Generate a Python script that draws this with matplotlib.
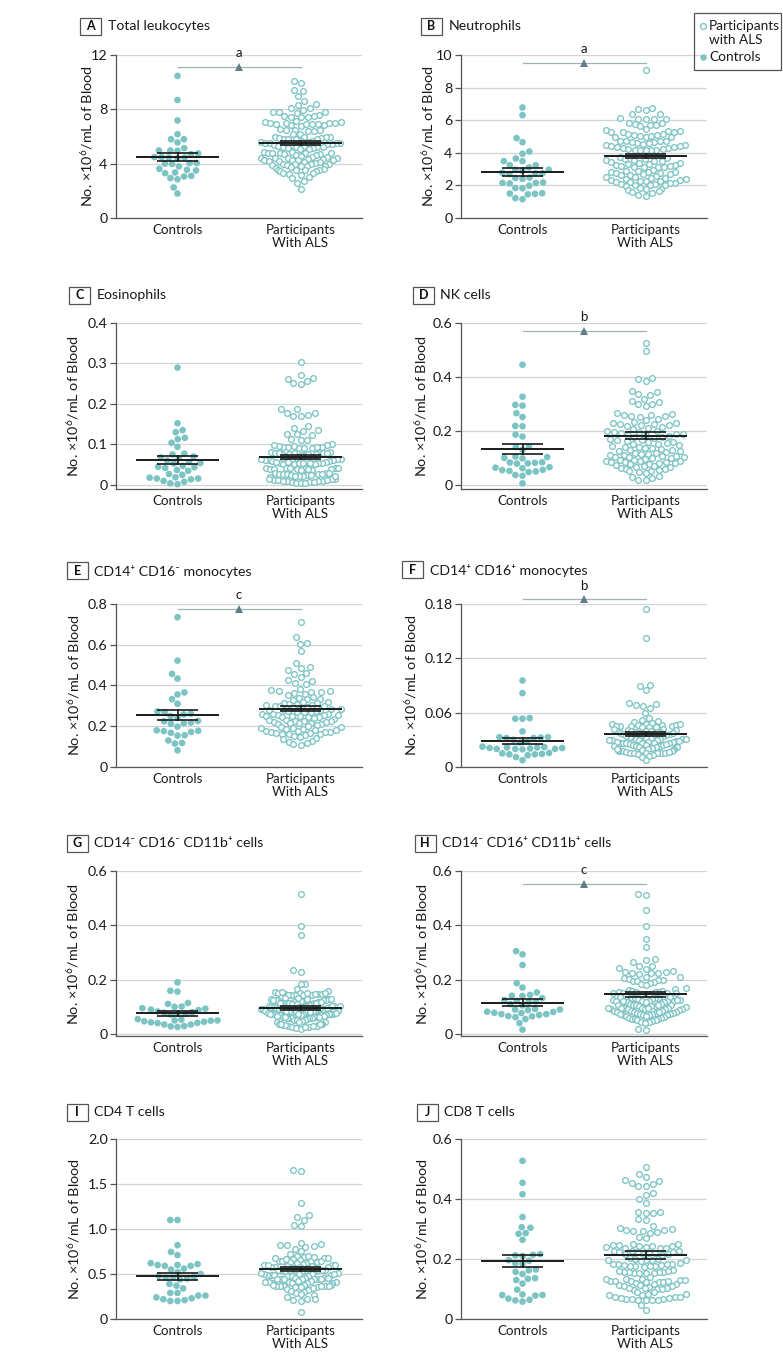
import numpy as np
import matplotlib
matplotlib.use("Agg")
import matplotlib.pyplot as plt
from matplotlib.patches import Rectangle
from matplotlib.lines import Line2D

plt.rcParams['font.family'] = ['Lato', 'DejaVu Sans']
plt.rcParams['mathtext.fontset'] = 'custom'
plt.rcParams['mathtext.rm'] = 'Lato'

TEAL = '#7cc4c3'
TRI = '#5f7f84'
BRK = '#9db3b6'
INK = '#1a1a1a'

# ---------------- data ----------------
panel_letters = ['A', 'B', 'C', 'D', 'E', 'F', 'G', 'H', 'I', 'J']
panel_titles = ['Total leukocytes', 'Neutrophils', 'Eosinophils', 'NK cells',
                'CD14⁺ CD16⁻ monocytes', 'CD14⁺ CD16⁺ monocytes',
                'CD14⁻ CD16⁻ CD11b⁺ cells', 'CD14⁻ CD16⁺ CD11b⁺ cells',
                'CD4 T cells', 'CD8 T cells']
categories = ['Controls', 'Participants\nWith ALS']

y_ticks = [[0, 4, 8, 12], [0, 2, 4, 6, 8, 10], [0, 0.1, 0.2, 0.3, 0.4],
           [0, 0.2, 0.4, 0.6], [0, 0.2, 0.4, 0.6, 0.8], [0, 0.06, 0.12, 0.18],
           [0, 0.2, 0.4, 0.6], [0, 0.2, 0.4, 0.6], [0, 0.5, 1.0, 1.5, 2.0],
           [0, 0.2, 0.4, 0.6]]
y_tick_labels = [['0', '4', '8', '12'], ['0', '2', '4', '6', '8', '10'],
                 ['0', '0.1', '0.2', '0.3', '0.4'], ['0', '0.2', '0.4', '0.6'],
                 ['0', '0.2', '0.4', '0.6', '0.8'], ['0', '0.06', '0.12', '0.18'],
                 ['0', '0.2', '0.4', '0.6'], ['0', '0.2', '0.4', '0.6'],
                 ['0', '0.5', '1.0', '1.5', '2.0'], ['0', '0.2', '0.4', '0.6']]

ctrl_mean = [4.49, 2.84, 0.0615, 0.133, 0.256, 0.0287, 0.0758, 0.115, 0.474, 0.193]
ctrl_sem = [0.28, 0.25, 0.0103, 0.018, 0.024, 0.0035, 0.0085, 0.013, 0.041, 0.020]
als_mean = [5.49, 3.80, 0.0697, 0.182, 0.287, 0.0364, 0.0966, 0.1455, 0.556, 0.212]
als_sem = [0.15, 0.14, 0.0053, 0.013, 0.012, 0.0024, 0.0073, 0.009, 0.026, 0.0133]

sig_letter = ['a', 'a', '', 'b', 'c', 'b', '', 'c', '', '']
sig_line_y = [11.1, 9.5, None, 0.568, 0.774, 0.185, None, 0.551, None, None]

A_ctrl = [10.46, 8.69, 7.18, 6.17, 5.80, 5.80, 5.56, 5.14, 4.97, 4.97, 4.95, 4.75, 4.70,
          4.48, 4.48, 4.45, 4.45, 4.40, 4.05, 4.04, 4.00, 3.98, 3.80, 3.62, 3.55, 3.50,
          3.35, 3.30, 3.10, 3.06, 2.94, 2.85, 2.25, 1.80]
A_als = [10.1, 9.95, 9.4, 9.35, 8.95, 8.65, 8.4, 8.35, 8.1, 8.1, 7.95, 7.8, 7.8, 7.8, 7.75,
         7.55, 7.5, 7.45, 7.4, 7.4, 7.5, 7.15, 7.1, 7.05, 7.0, 7.0, 6.95, 6.9, 6.9, 6.85,
         6.85, 6.8, 6.9, 7.0, 7.0, 6.55, 6.5, 6.45, 6.45, 6.4, 6.4, 6.2, 6.15, 6.0, 6.0,
         5.95, 5.95, 5.9, 5.9, 5.85, 5.85, 5.8, 5.8, 5.65, 5.65, 5.6, 5.6, 5.55, 5.55, 5.5,
         5.5, 5.45, 5.45, 5.4, 5.4, 5.3, 5.3, 5.25, 5.25, 5.2, 5.2, 5.15, 5.15, 5.1, 5.1,
         4.85, 4.85, 4.8, 4.8, 4.8, 4.75, 4.75, 4.7, 4.7, 4.65, 4.65, 4.6, 4.5, 4.5, 4.45,
         4.45, 4.4, 4.4, 4.35, 4.35, 4.3, 4.3, 4.25, 4.25, 4.2, 4.2, 4.15, 4.1, 4.05, 4.0,
         4.0, 3.95, 3.95, 3.9, 3.9, 3.85, 3.8, 3.8, 3.75, 3.7, 3.6, 3.55, 3.55, 3.5, 3.5,
         3.45, 3.45, 3.3, 3.3, 3.25, 3.2, 3.0, 2.95, 2.7, 2.55, 2.1]

B_ctrl = [6.78, 6.31, 4.90, 4.65, 4.08, 3.94, 3.65, 3.49, 3.49, 3.24, 3.24, 3.10, 2.96,
          2.96, 2.90, 2.78, 2.75, 2.75, 2.70, 2.48, 2.45, 2.40, 2.18, 2.15, 2.15, 2.12,
          1.98, 1.84, 1.82, 1.52, 1.50, 1.48, 1.45, 1.22, 1.15]
B_als = [9.05, 6.75, 6.7, 6.6, 6.4, 6.35, 6.1, 6.1, 6.05, 6.05, 6.15, 5.85, 5.8, 5.75, 5.7,
         5.65, 5.7, 5.45, 5.4, 5.35, 5.3, 5.35, 5.3, 5.25, 5.15, 5.1, 5.05, 5.0, 5.0, 5.1,
         5.15, 5.05, 4.95, 4.75, 4.7, 4.65, 4.6, 4.6, 4.65, 4.7, 4.7, 4.55, 4.5, 4.45, 4.4,
         4.4, 4.35, 4.35, 4.3, 4.3, 4.25, 4.25, 4.2, 4.2, 4.2, 4.15, 4.15, 3.75, 3.7, 3.65,
         3.6, 3.55, 3.55, 3.5, 3.5, 3.45, 3.4, 3.35, 3.3, 3.3, 3.25, 3.25, 3.2, 3.2, 3.15,
         3.15, 3.1, 3.1, 2.95, 2.9, 2.9, 2.85, 2.85, 2.8, 2.75, 2.75, 2.7, 2.7, 2.65, 2.65,
         2.55, 2.5, 2.5, 2.45, 2.45, 2.4, 2.4, 2.35, 2.35, 2.3, 2.3, 2.3, 2.2, 2.2, 2.15,
         2.15, 2.1, 2.1, 2.05, 2.0, 2.0, 1.95, 1.85, 1.8, 1.75, 1.7, 1.65, 1.6, 1.55, 1.4, 1.35]

C_ctrl = [0.289, 0.152, 0.135, 0.130, 0.116, 0.113, 0.104, 0.094, 0.077, 0.075, 0.070,
          0.068, 0.066, 0.060, 0.056, 0.054, 0.053, 0.047, 0.045, 0.044, 0.042, 0.037,
          0.035, 0.027, 0.025, 0.019, 0.016, 0.014, 0.016, 0.018, 0.010, 0.008, 0.004, 0.002]
C_als = [0.302, 0.272, 0.264, 0.262, 0.256, 0.250, 0.248, 0.187, 0.186, 0.178, 0.177, 0.173,
         0.170, 0.170, 0.145, 0.141, 0.135, 0.133, 0.126, 0.125, 0.122, 0.113, 0.110, 0.112,
         0.100, 0.098, 0.096, 0.094, 0.093, 0.092, 0.092, 0.092, 0.093, 0.094, 0.097, 0.099,
         0.082, 0.081, 0.080, 0.079, 0.078, 0.077, 0.076, 0.075, 0.075, 0.076, 0.077, 0.078,
         0.079, 0.080, 0.068, 0.067, 0.066, 0.065, 0.064, 0.063, 0.062, 0.061, 0.060, 0.062,
         0.064, 0.058, 0.057, 0.056, 0.055, 0.054, 0.053, 0.052, 0.051, 0.052, 0.053, 0.054,
         0.055, 0.056, 0.057, 0.042, 0.042, 0.041, 0.040, 0.040, 0.039, 0.039, 0.038, 0.038,
         0.039, 0.040, 0.041, 0.042, 0.030, 0.029, 0.028, 0.027, 0.026, 0.025, 0.024, 0.025,
         0.026, 0.028, 0.030, 0.022, 0.021, 0.020, 0.015, 0.014, 0.013, 0.012, 0.011, 0.010,
         0.009, 0.008, 0.007, 0.006, 0.005, 0.006, 0.008, 0.010, 0.012, 0.014, 0.021, 0.022]

D_ctrl = [0.444, 0.326, 0.296, 0.293, 0.265, 0.251, 0.218, 0.217, 0.186, 0.179, 0.142,
          0.140, 0.130, 0.105, 0.103, 0.100, 0.098, 0.084, 0.080, 0.079, 0.082, 0.083,
          0.066, 0.064, 0.062, 0.055, 0.048, 0.052, 0.050, 0.056, 0.037, 0.034, 0.006]
D_als = [0.525, 0.495, 0.395, 0.39, 0.385, 0.348, 0.343, 0.335, 0.332, 0.318, 0.31, 0.305,
         0.3, 0.298, 0.292, 0.265, 0.262, 0.26, 0.257, 0.256, 0.255, 0.252, 0.245, 0.24,
         0.232, 0.23, 0.228, 0.225, 0.224, 0.222, 0.22, 0.218, 0.215, 0.21, 0.205, 0.2,
         0.198, 0.196, 0.195, 0.193, 0.19, 0.188, 0.186, 0.184, 0.182, 0.178, 0.176, 0.174,
         0.17, 0.168, 0.165, 0.162, 0.16, 0.158, 0.155, 0.153, 0.15, 0.147, 0.145, 0.142,
         0.14, 0.137, 0.135, 0.133, 0.13, 0.128, 0.126, 0.125, 0.122, 0.12, 0.118, 0.116,
         0.114, 0.112, 0.11, 0.108, 0.106, 0.105, 0.104, 0.103, 0.1, 0.098, 0.096, 0.094,
         0.092, 0.09, 0.088, 0.087, 0.086, 0.085, 0.084, 0.083, 0.08, 0.078, 0.076, 0.074,
         0.072, 0.07, 0.068, 0.066, 0.064, 0.06, 0.058, 0.055, 0.052, 0.05, 0.047, 0.045,
         0.035, 0.03, 0.025, 0.02, 0.018]

E_ctrl = [0.735, 0.522, 0.457, 0.434, 0.366, 0.356, 0.333, 0.310, 0.272, 0.270, 0.262,
          0.258, 0.250, 0.240, 0.226, 0.224, 0.218, 0.215, 0.212, 0.198, 0.180, 0.176,
          0.172, 0.168, 0.178, 0.156, 0.154, 0.130, 0.118, 0.115, 0.082]
E_als = [0.71, 0.637, 0.61, 0.605, 0.57, 0.512, 0.49, 0.485, 0.475, 0.46, 0.455, 0.44, 0.428,
         0.42, 0.41, 0.405, 0.385, 0.38, 0.375, 0.372, 0.37, 0.37, 0.365, 0.36, 0.355, 0.345,
         0.34, 0.335, 0.335, 0.33, 0.32, 0.318, 0.315, 0.312, 0.31, 0.308, 0.305, 0.303, 0.3,
         0.3, 0.298, 0.296, 0.29, 0.288, 0.286, 0.284, 0.282, 0.28, 0.278, 0.276, 0.274,
         0.272, 0.27, 0.268, 0.262, 0.26, 0.258, 0.256, 0.255, 0.254, 0.252, 0.25, 0.248,
         0.246, 0.245, 0.244, 0.242, 0.235, 0.232, 0.23, 0.228, 0.226, 0.224, 0.222, 0.22,
         0.218, 0.216, 0.214, 0.212, 0.21, 0.205, 0.2, 0.198, 0.195, 0.192, 0.19, 0.188,
         0.185, 0.182, 0.18, 0.178, 0.176, 0.174, 0.172, 0.17, 0.168, 0.166, 0.164, 0.162,
         0.16, 0.155, 0.15, 0.145, 0.14, 0.135, 0.13, 0.125, 0.12, 0.115, 0.11]

F_ctrl = [0.0955, 0.0816, 0.0540, 0.0533, 0.0533, 0.0393, 0.0330, 0.0325, 0.0320, 0.0320,
          0.0330, 0.0300, 0.0285, 0.0270, 0.0220, 0.0215, 0.0210, 0.0200, 0.0195, 0.0200,
          0.0205, 0.0200, 0.0210, 0.0215, 0.0225, 0.0150, 0.0140, 0.0145, 0.0140, 0.0155,
          0.0130, 0.0110, 0.0075]
F_als = [0.1745, 0.1425, 0.0905, 0.0895, 0.0845, 0.0705, 0.0695, 0.0685, 0.067, 0.0655,
         0.0595, 0.054, 0.052, 0.051, 0.05, 0.049, 0.048, 0.047, 0.046, 0.046, 0.045, 0.045,
         0.044, 0.044, 0.044, 0.045, 0.045, 0.046, 0.047, 0.042, 0.041, 0.04, 0.04, 0.039,
         0.039, 0.039, 0.04, 0.04, 0.041, 0.042, 0.038, 0.037, 0.036, 0.036, 0.035, 0.035,
         0.035, 0.036, 0.037, 0.034, 0.033, 0.032, 0.031, 0.031, 0.03, 0.03, 0.03, 0.03,
         0.031, 0.031, 0.032, 0.033, 0.034, 0.029, 0.028, 0.028, 0.027, 0.027, 0.026, 0.026,
         0.026, 0.027, 0.028, 0.029, 0.025, 0.024, 0.024, 0.023, 0.023, 0.022, 0.022, 0.022,
         0.023, 0.024, 0.025, 0.021, 0.02, 0.02, 0.019, 0.019, 0.018, 0.018, 0.018, 0.019,
         0.02, 0.017, 0.016, 0.016, 0.015, 0.015, 0.015, 0.016, 0.017, 0.014, 0.013, 0.012,
         0.011, 0.008]

G_ctrl = [0.190, 0.159, 0.156, 0.114, 0.111, 0.101, 0.100, 0.095, 0.093, 0.090, 0.088,
          0.083, 0.080, 0.078, 0.076, 0.074, 0.072, 0.055, 0.053, 0.050, 0.047, 0.043,
          0.041, 0.035, 0.028, 0.026, 0.029, 0.035, 0.040, 0.045, 0.049, 0.050]
G_als = [0.515, 0.398, 0.365, 0.235, 0.23, 0.185, 0.183, 0.165, 0.157, 0.155, 0.152, 0.15,
         0.148, 0.146, 0.145, 0.144, 0.143, 0.144, 0.145, 0.146, 0.148, 0.15, 0.152, 0.156,
         0.132, 0.13, 0.128, 0.126, 0.125, 0.124, 0.123, 0.124, 0.125, 0.126, 0.128, 0.13,
         0.132, 0.118, 0.116, 0.115, 0.114, 0.113, 0.112, 0.111, 0.112, 0.113, 0.114, 0.115,
         0.116, 0.105, 0.104, 0.103, 0.102, 0.1, 0.1, 0.099, 0.1, 0.101, 0.102, 0.103, 0.095,
         0.094, 0.093, 0.092, 0.091, 0.09, 0.09, 0.091, 0.092, 0.093, 0.094, 0.095, 0.086,
         0.085, 0.084, 0.083, 0.082, 0.081, 0.08, 0.081, 0.082, 0.083, 0.084, 0.076, 0.075,
         0.074, 0.073, 0.072, 0.071, 0.07, 0.07, 0.071, 0.072, 0.073, 0.074, 0.075, 0.076,
         0.066, 0.065, 0.064, 0.063, 0.062, 0.06, 0.059, 0.058, 0.058, 0.06, 0.062, 0.064,
         0.055, 0.053, 0.051, 0.05, 0.048, 0.046, 0.045, 0.044, 0.038, 0.037, 0.036, 0.035,
         0.034, 0.033, 0.03, 0.028, 0.026, 0.024, 0.022, 0.02, 0.024, 0.028, 0.032, 0.035, 0.037]

H_ctrl = [0.305, 0.293, 0.254, 0.187, 0.171, 0.153, 0.144, 0.141, 0.140, 0.132, 0.125,
          0.122, 0.120, 0.118, 0.110, 0.105, 0.092, 0.090, 0.090, 0.088, 0.081, 0.078,
          0.073, 0.066, 0.062, 0.055, 0.065, 0.070, 0.073, 0.077, 0.082, 0.040, 0.016]
H_als = [0.515, 0.513, 0.455, 0.398, 0.348, 0.32, 0.275, 0.272, 0.266, 0.252, 0.25, 0.244,
         0.24, 0.232, 0.23, 0.228, 0.226, 0.225, 0.224, 0.222, 0.21, 0.208, 0.205, 0.204,
         0.2, 0.198, 0.196, 0.194, 0.19, 0.188, 0.185, 0.18, 0.168, 0.165, 0.162, 0.16, 0.158,
         0.156, 0.155, 0.154, 0.153, 0.152, 0.151, 0.15, 0.149, 0.148, 0.148, 0.15, 0.14,
         0.138, 0.136, 0.135, 0.134, 0.133, 0.132, 0.131, 0.13, 0.13, 0.125, 0.124, 0.123,
         0.122, 0.121, 0.12, 0.119, 0.118, 0.119, 0.12, 0.122, 0.124, 0.112, 0.11, 0.108,
         0.106, 0.105, 0.104, 0.103, 0.104, 0.106, 0.108, 0.098, 0.096, 0.095, 0.094, 0.093,
         0.092, 0.091, 0.092, 0.093, 0.094, 0.095, 0.097, 0.087, 0.085, 0.084, 0.083, 0.082,
         0.08, 0.079, 0.078, 0.079, 0.08, 0.082, 0.075, 0.074, 0.072, 0.071, 0.07, 0.069,
         0.07, 0.072, 0.068, 0.066, 0.062, 0.06, 0.058, 0.056, 0.055, 0.054, 0.052, 0.05,
         0.048, 0.046, 0.044, 0.042, 0.02, 0.016]

I_ctrl = [1.10, 1.10, 0.82, 0.745, 0.71, 0.61, 0.60, 0.59, 0.59, 0.60, 0.62, 0.56, 0.55,
          0.52, 0.50, 0.48, 0.47, 0.46, 0.46, 0.45, 0.44, 0.39, 0.37, 0.34, 0.29, 0.29,
          0.26, 0.23, 0.21, 0.20, 0.20, 0.22, 0.24, 0.26]
I_als = [1.65, 1.66, 1.29, 1.16, 1.13, 1.10, 1.05, 1.03, 0.85, 0.82, 0.81, 0.80, 0.78, 0.76,
         0.72, 0.82, 0.83, 0.7, 0.69, 0.68, 0.68, 0.67, 0.66, 0.65, 0.64, 0.63, 0.62, 0.62,
         0.63, 0.64, 0.65, 0.67, 0.68, 0.69, 0.70, 0.61, 0.60, 0.60, 0.59, 0.58, 0.58, 0.57,
         0.57, 0.58, 0.58, 0.59, 0.60, 0.60, 0.55, 0.55, 0.54, 0.54, 0.53, 0.53, 0.53, 0.54,
         0.54, 0.55, 0.55, 0.51, 0.50, 0.50, 0.49, 0.49, 0.48, 0.48, 0.48, 0.49, 0.49, 0.50,
         0.50, 0.51, 0.46, 0.46, 0.45, 0.45, 0.44, 0.44, 0.44, 0.45, 0.45, 0.46, 0.46, 0.42,
         0.41, 0.41, 0.40, 0.40, 0.40, 0.40, 0.41, 0.41, 0.42, 0.38, 0.38, 0.37, 0.37, 0.37,
         0.36, 0.36, 0.36, 0.37, 0.37, 0.37, 0.38, 0.34, 0.33, 0.32, 0.31, 0.30, 0.29, 0.28,
         0.27, 0.24, 0.22, 0.21, 0.20, 0.22, 0.08]

J_ctrl = [0.527, 0.454, 0.416, 0.340, 0.306, 0.304, 0.286, 0.284, 0.264, 0.216, 0.214,
          0.212, 0.210, 0.196, 0.194, 0.186, 0.184, 0.165, 0.162, 0.157, 0.150, 0.136,
          0.130, 0.134, 0.118, 0.098, 0.080, 0.078, 0.080, 0.082, 0.064, 0.058, 0.062, 0.068]
J_als = [0.508, 0.485, 0.474, 0.463, 0.46, 0.455, 0.45, 0.445, 0.445, 0.42, 0.415, 0.4,
         0.387, 0.358, 0.355, 0.357, 0.355, 0.333, 0.33, 0.31, 0.305, 0.3, 0.298, 0.296,
         0.294, 0.292, 0.29, 0.288, 0.27, 0.275, 0.25, 0.248, 0.246, 0.244, 0.242, 0.24,
         0.238, 0.236, 0.238, 0.24, 0.245, 0.25, 0.228, 0.226, 0.224, 0.222, 0.22, 0.218,
         0.216, 0.214, 0.216, 0.22, 0.224, 0.226, 0.205, 0.2, 0.198, 0.196, 0.195, 0.196,
         0.198, 0.2, 0.186, 0.184, 0.182, 0.18, 0.178, 0.176, 0.175, 0.176, 0.178, 0.18,
         0.182, 0.185, 0.165, 0.16, 0.158, 0.156, 0.155, 0.154, 0.152, 0.154, 0.156, 0.158,
         0.16, 0.14, 0.135, 0.132, 0.13, 0.128, 0.126, 0.125, 0.124, 0.125, 0.126, 0.128,
         0.13, 0.132, 0.12, 0.118, 0.116, 0.114, 0.112, 0.11, 0.108, 0.105, 0.102, 0.1,
         0.098, 0.1, 0.105, 0.11, 0.09, 0.085, 0.08, 0.075, 0.072, 0.07, 0.068, 0.066, 0.065,
         0.064, 0.063, 0.065, 0.068, 0.07, 0.075, 0.08, 0.085, 0.09, 0.048, 0.03]

controls = [A_ctrl, B_ctrl, C_ctrl, D_ctrl, E_ctrl, F_ctrl, G_ctrl, H_ctrl, I_ctrl, J_ctrl]
als = [A_als, B_als, C_als, D_als, E_als, F_als, G_als, H_als, I_als, J_als]

# ---------------- layout (pixels) ----------------
W, H = 783, 1364
col_left = [116, 461]
ax_w = 246
rows_px = [(55, 218), (322.5, 485), (604, 767), (871, 1034), (1139, 1319)]
ymins = [0, 0, -0.01, -0.015, 0, 0, -0.009, -0.009, 0, 0]
title_box_x = [80, 421, 69, 413, 67, 402, 67, 415, 67, 417]
title_y = [26, 26, 295, 295, 571, 570, 843, 843, 1112, 1112]
ylabel_dx = [-29, -33, -43, -40, -42, -50, -43, -39, -42, -39]
MAX_HALF = 40.0   # px, half width of a swarm

fig = plt.figure(figsize=(W / 100, H / 100), dpi=100)
fig.patch.set_facecolor('white')


def fx(x):
    return x / W


def fy(y):
    return 1 - y / H


def swarm(values, px_per_unit, d):
    # simple beeswarm in pixel space, returns x offsets in pixels
    ys = np.asarray(values, float) * px_per_unit
    order = np.argsort(ys)
    placed = []
    offs = np.zeros(len(ys))
    for i in order:
        y = ys[i]
        cands = [0.0]
        for (px, py) in placed:
            dy = y - py
            if abs(dy) < d:
                dx = np.sqrt(d * d - dy * dy)
                cands += [px + dx, px - dx]
        cands = sorted(cands, key=lambda c: (abs(c), c))
        for c in cands:
            ok = True
            for (px, py) in placed:
                if (c - px) ** 2 + (y - py) ** 2 < d * d - 1e-6:
                    ok = False
                    break
            if ok:
                offs[i] = c
                placed.append((c, y))
                break
    # squeeze crowded bands so that no band gets wider than MAX_HALF
    out = offs.copy()
    for i in range(len(ys)):
        band = np.abs(ys - ys[i]) < 1.5 * d
        local = np.abs(offs[band]).max()
        if local > MAX_HALF:
            out[i] = offs[i] * MAX_HALF / local
    return out


for k in range(10):
    r, c = divmod(k, 2)
    top, zero = rows_px[r]
    ymax = y_ticks[k][-1]
    ymin = ymins[k]
    ppu = (zero - top) / ymax
    bottom = zero + (-ymin) * ppu
    left = col_left[c]
    ax = fig.add_axes([fx(left), fy(bottom), ax_w / W, (bottom - top) / H])
    ax.set_xlim(-0.5, 1.5)
    ax.set_ylim(ymin, ymax)
    xppu = ax_w / 2.0

    # swarm points
    off_c = swarm(controls[k], ppu, 7.2) / xppu
    off_a = swarm(als[k], ppu, 7.2) / xppu
    ax.scatter(0 + off_c, controls[k], s=23, color=TEAL, edgecolors='none',
               zorder=3, clip_on=False)
    ax.scatter(1 + off_a, als[k], s=17, facecolors='white', edgecolors=TEAL,
               linewidths=0.95, zorder=3, clip_on=False)

    # mean and SEM
    for xc, m, se in [(0, ctrl_mean[k], ctrl_sem[k]), (1, als_mean[k], als_sem[k])]:
        ax.plot([xc - 0.335, xc + 0.335], [m, m], color=INK, lw=1.4, zorder=5,
                solid_capstyle='butt')
        ax.plot([xc - 0.165, xc + 0.165], [m + se, m + se], color=INK, lw=1.2,
                zorder=5, solid_capstyle='butt')
        ax.plot([xc - 0.165, xc + 0.165], [m - se, m - se], color=INK, lw=1.2,
                zorder=5, solid_capstyle='butt')
        ax.plot([xc, xc], [m - se, m + se], color=INK, lw=1.2, zorder=5)

    # significance bracket
    if sig_line_y[k] is not None:
        ly = sig_line_y[k]
        ax.plot([0, 1], [ly, ly], color=BRK, lw=0.9, clip_on=False, zorder=2)
        ax.plot([0.5], [ly], marker='^', ms=5.5, color=TRI, clip_on=False,
                zorder=4, markeredgewidth=0)
        ax.annotate(sig_letter[k], xy=(0.5, ly), xytext=(0, 10), textcoords='offset points',
                    ha='center', va='center', fontsize=9.5, color=INK,
                    annotation_clip=False)

    # axes styling
    ax.set_yticks(y_ticks[k])
    ax.set_yticklabels(y_tick_labels[k])
    ax.set_xticks([0, 1])
    ax.set_xticklabels(categories, fontsize=9.6, linespacing=1.1, color=INK)
    ax.tick_params(axis='x', length=0, pad=4)
    ax.tick_params(axis='y', length=4, width=0.9, color='#555555', labelsize=10.3,
                   labelcolor=INK, pad=2)
    ax.yaxis.grid(True, color='#d4d4d4', lw=0.9, zorder=0)
    ax.set_axisbelow(True)
    for s in ['top', 'right']:
        ax.spines[s].set_visible(False)
    for s in ['left', 'bottom']:
        ax.spines[s].set_color('#555555')
        ax.spines[s].set_linewidth(0.9)
    ax.set_ylabel('No. ×10$^6$/mL of Blood', fontsize=10.4, color=INK, va='center')
    ax.yaxis.set_label_coords(ylabel_dx[k] / ax_w, 0.5)

    # panel title with boxed letter
    bx = title_box_x[k]
    ty = title_y[k]
    fig.patches.append(Rectangle((fx(bx), fy(ty + 8.5)), 20.5 / W, 17 / H,
                                 transform=fig.transFigure, fill=False,
                                 edgecolor='#555555', lw=0.9))
    fig.text(fx(bx + 10.25), fy(ty), panel_letters[k], ha='center', va='center',
             fontsize=9, fontweight='bold', color='#111111')
    fig.text(fx(bx + 27.5), fy(ty), panel_titles[k], ha='left', va='center',
             fontsize=10.2, color=INK)

# legend (top right)
fig.patches.append(Rectangle((fx(694), fy(70)), 87 / W, 57 / H, transform=fig.transFigure,
                             fill=False, edgecolor='#555555', lw=0.9))
fig.lines.append(Line2D([fx(703)], [fy(26)], transform=fig.transFigure, marker='o', ms=4.2,
                        mfc='white', mec=TEAL, mew=1.0, ls='none'))
fig.lines.append(Line2D([fx(703)], [fy(57)], transform=fig.transFigure, marker='o', ms=4.6,
                        mfc=TEAL, mec='none', ls='none'))
fig.text(fx(709), fy(26), 'Participants', ha='left', va='center', fontsize=9.8, color=INK)
fig.text(fx(709), fy(40), 'with ALS', ha='left', va='center', fontsize=9.8, color=INK)
fig.text(fx(709), fy(57), 'Controls', ha='left', va='center', fontsize=9.8, color=INK)

fig.savefig('out.png', dpi=100, facecolor='white')
